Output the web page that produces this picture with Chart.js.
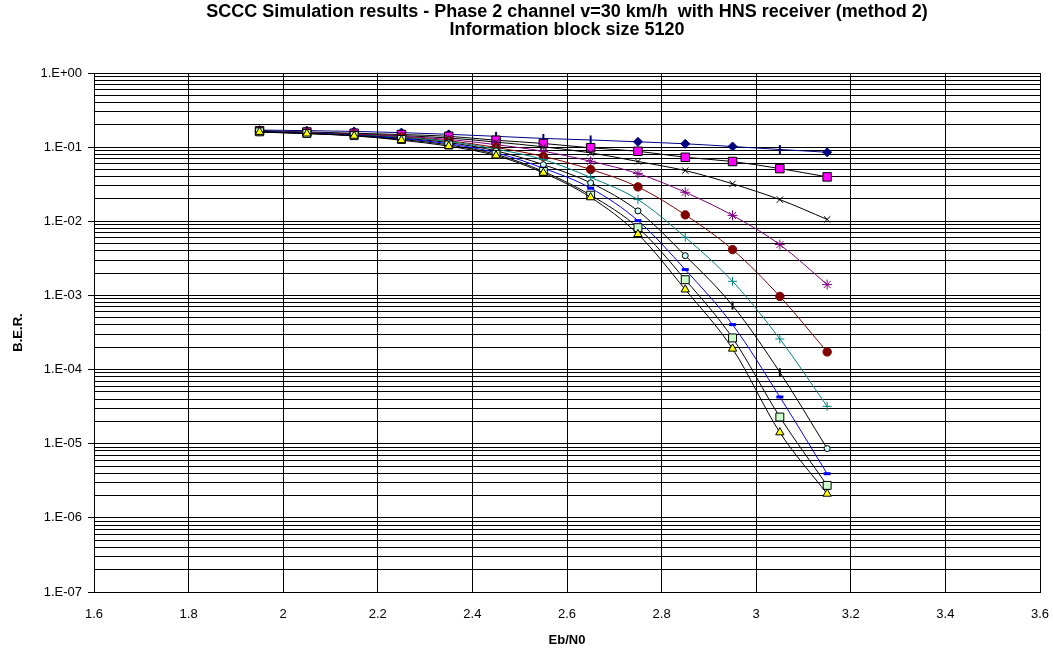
<!DOCTYPE html>
<html>
<head>
<meta charset="utf-8">
<title>SCCC Simulation results</title>
<script src="https://cdn.jsdelivr.net/npm/chart.js@4.4.1/dist/chart.umd.min.js"></script>
<style>
  html, body { margin: 0; padding: 0; background: #fff; }
  canvas { display: block; }
</style>
</head>
<body>
<canvas id="berChart" width="1053" height="650"></canvas>
<script>
// Eb/N0 of the simulated points
var ebN0 = [1.95, 2.05, 2.15, 2.25, 2.35, 2.45, 2.55, 2.65, 2.75, 2.85, 2.95, 3.05, 3.15];

// B.E.R. curves (one per iteration count)
var berNavyDiamond    = [0.170, 0.167, 0.163, 0.157, 0.149, 0.140, 0.131, 0.125, 0.118, 0.111, 0.102, 0.093, 0.0853];
var berMagentaSquare  = [0.166, 0.160, 0.154, 0.148, 0.140, 0.124, 0.112, 0.098, 0.088, 0.073, 0.064, 0.0514, 0.0397];
var berBlackCross     = [0.165, 0.158, 0.151, 0.143, 0.133, 0.117, 0.101, 0.0838, 0.064, 0.0483, 0.032, 0.0196, 0.0106];
var berPurpleStar     = [0.164, 0.157, 0.149, 0.140, 0.127, 0.108, 0.088, 0.0645, 0.044, 0.0246, 0.012, 0.00485, 0.0014];
var berRedCircle      = [0.163, 0.156, 0.147, 0.137, 0.122, 0.099, 0.075, 0.050, 0.0291, 0.0122, 0.00415, 0.00097, 0.000173];
var berTealPlus       = [0.163, 0.155, 0.146, 0.135, 0.119, 0.094, 0.068, 0.039, 0.0196, 0.00608, 0.00155, 0.000259, 0.0000319];
var berOpenCircle     = [0.162, 0.154, 0.145, 0.132, 0.115, 0.089, 0.058, 0.033, 0.0138, 0.00344, 0.00073, 0.000092, 0.0000086];
var berBlueDash       = [0.162, 0.154, 0.144, 0.130, 0.111, 0.084, 0.052, 0.028, 0.0102, 0.00223, 0.000404, 0.0000427, 0.00000394];
var berGreenSquare    = [0.161, 0.153, 0.143, 0.127, 0.107, 0.080, 0.047, 0.0225, 0.0082, 0.00163, 0.000267, 0.0000229, 0.00000274];
var berYellowTriangle = [0.160, 0.152, 0.142, 0.124, 0.103, 0.077, 0.045, 0.021, 0.0067, 0.0012, 0.000191, 0.0000142, 0.00000211];

// axis ticks
var xTickValues = [1.6, 1.8, 2, 2.2, 2.4, 2.6, 2.8, 3, 3.2, 3.4, 3.6];
var xTickLabels = ['1.6', '1.8', '2', '2.2', '2.4', '2.6', '2.8', '3', '3.2', '3.4', '3.6'];
var yDecadeExps = [-7, -6, -5, -4, -3, -2, -1, 0];
var yDecadeLabels = ['1.E-07', '1.E-06', '1.E-05', '1.E-04', '1.E-03', '1.E-02', '1.E-01', '1.E+00'];

var FONT = '"Liberation Sans", Arial, sans-serif';

function points(values) {
    return ebN0.map(function (x, i) { return { x: x, y: values[i] }; });
}

// same marker everywhere, except a vertical tick at some indices
function perPoint(normal, tick, tickIdx) {
    return ebN0.map(function (x, i) { return tickIdx.indexOf(i) >= 0 ? tick : normal; });
}

// minor gridlines at 1..9 of every decade
var yTickValues = [];
yDecadeExps.forEach(function (e) {
    if (e === 0) { yTickValues.push(1); return; }
    for (var m = 1; m <= 9; m++) yTickValues.push(parseFloat((m * Math.pow(10, e)).toPrecision(3)));
});

function isDecade(v) {
    var l = Math.log10(v);
    return Math.abs(l - Math.round(l)) < 1e-9;
}

var navyTicks = [5, 6, 7, 11];
var openTicks = [10, 11];

// dataset 0 is drawn on top
var datasets = [
    {
        data: points(berYellowTriangle), borderColor: '#000', pointStyle: 'triangle',
        pointRadius: 4.8, pointBackgroundColor: '#FFFF00', pointBorderColor: '#000'
    },
    {
        data: points(berGreenSquare), borderColor: '#000', pointStyle: 'rect',
        pointRadius: 5.6, pointBackgroundColor: '#CCFFCC', pointBorderColor: '#000'
    },
    {
        data: points(berBlueDash), borderColor: '#0000FF', pointStyle: 'line',
        pointRadius: 3.5, pointBorderWidth: 3, pointBorderColor: '#0000FF'
    },
    {
        data: points(berOpenCircle), borderColor: '#000',
        pointStyle: perPoint('circle', 'line', openTicks),
        rotation: perPoint(0, 90, openTicks),
        pointRadius: perPoint(3, 4, openTicks),
        pointBorderWidth: perPoint(1, 2, openTicks),
        pointBackgroundColor: '#CCFFFF', pointBorderColor: '#000'
    },
    {
        data: points(berTealPlus), borderColor: '#008080', pointStyle: 'cross',
        pointRadius: 4.5, pointBorderColor: '#008080'
    },
    {
        data: points(berRedCircle), borderColor: '#800000', pointStyle: 'circle',
        pointRadius: 4.2, pointBackgroundColor: '#800000', pointBorderColor: '#800000'
    },
    {
        data: points(berPurpleStar), borderColor: '#800080', pointStyle: 'star',
        pointRadius: 5, pointBorderColor: '#800080'
    },
    {
        data: points(berBlackCross), borderColor: '#000', pointStyle: 'crossRot',
        pointRadius: 4.5, pointBorderColor: '#000'
    },
    {
        data: points(berMagentaSquare), borderColor: '#000', pointStyle: 'rect',
        pointRadius: 6, pointBackgroundColor: '#FF00FF', pointBorderColor: '#000'
    },
    {
        data: points(berNavyDiamond), borderColor: '#000080',
        pointStyle: perPoint('rectRot', 'line', navyTicks),
        rotation: perPoint(0, 90, navyTicks),
        pointRadius: perPoint(4.5, 4.5, navyTicks),
        pointBorderWidth: perPoint(1, 2, navyTicks),
        pointBackgroundColor: '#000080', pointBorderColor: '#000080'
    }
];

datasets.forEach(function (d) {
    d.borderWidth = 1;
    d.fill = false;
    d.cubicInterpolationMode = 'monotone';
    if (d.pointBorderWidth === undefined) d.pointBorderWidth = 1;
    if (d.pointBackgroundColor === undefined) d.pointBackgroundColor = d.pointBorderColor;
});

var ctx = document.getElementById('berChart').getContext('2d');

var berChart = new Chart(ctx, {
    type: 'line',
    data: { datasets: datasets },
    options: {
        responsive: false,
        animation: false,
        devicePixelRatio: 1,
        layout: { padding: { left: 0, right: 13, top: 0, bottom: 0 } },
        scales: {
            x: {
                type: 'linear',
                min: 1.6,
                max: 3.6,
                afterBuildTicks: function (scale) {
                    scale.ticks = xTickValues.map(function (v) { return { value: v }; });
                },
                afterFit: function (scale) { scale.height = 58; },
                ticks: {
                    autoSkip: false,
                    maxRotation: 0,
                    padding: 0,
                    color: '#000',
                    font: { family: FONT, size: 13 },
                    callback: function (v, i) { return xTickLabels[i]; }
                },
                // invisible tick marks only push the labels down
                grid: { color: '#000', lineWidth: 1, drawTicks: true, tickLength: 15, tickColor: 'rgba(0,0,0,0)' },
                border: { color: '#000', width: 1 },
                title: {
                    display: true,
                    text: 'Eb/N0',
                    color: '#000',
                    font: { family: FONT, size: 13, weight: 'bold', lineHeight: 1.2 },
                    padding: { top: 0, bottom: 2 }
                }
            },
            y: {
                type: 'logarithmic',
                min: 1e-7,
                max: 1,
                afterBuildTicks: function (scale) {
                    scale.ticks = yTickValues.map(function (v) { return { value: v }; });
                },
                afterFit: function (scale) { scale.width = 94; },
                ticks: {
                    autoSkip: false,
                    padding: 6,
                    color: '#000',
                    font: { family: FONT, size: 13 },
                    callback: function (v) {
                        if (!isDecade(v)) return '';
                        return yDecadeLabels[yDecadeExps.indexOf(Math.round(Math.log10(v)))];
                    }
                },
                grid: {
                    color: '#000',
                    lineWidth: 1,
                    tickLength: 6,
                    tickColor: function (c) {
                        return c.tick && isDecade(c.tick.value) ? '#000' : 'rgba(0,0,0,0)';
                    }
                },
                border: { color: '#000', width: 1 },
                title: {
                    display: true,
                    text: 'B.E.R.',
                    color: '#000',
                    font: { family: FONT, size: 13, weight: 'bold', lineHeight: 1.2 },
                    padding: { top: 11, bottom: 0 }
                }
            }
        },
        plugins: {
            legend: { display: false },
            tooltip: { enabled: false },
            title: {
                display: true,
                fullSize: false,
                text: ['SCCC Simulation results - Phase 2 channel v=30 km/h  with HNS receiver (method 2)',
                       'Information block size 5120'],
                color: '#000',
                font: { family: FONT, size: 18, weight: 'bold', lineHeight: 1.0 },
                padding: { top: 3, bottom: 34 }
            }
        }
    }
});
</script>
</body>
</html>
